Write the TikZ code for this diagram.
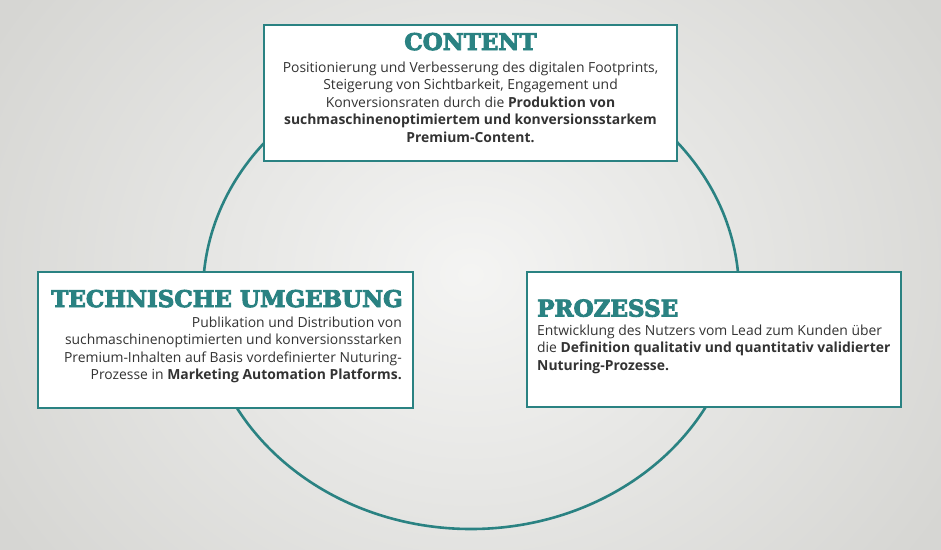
\documentclass[tikz,border=0pt]{standalone}
\usepackage{fontspec}
\setmainfont{Open Sans}
\newfontfamily\titlefont{DejaVu Serif Bold}[FakeBold=4]
\definecolor{tealc}{HTML}{2A8282}
\definecolor{bgc}{HTML}{EDEDEB}
\definecolor{bgdark}{HTML}{D6D6D3}
\definecolor{txtc}{HTML}{333333}
\newcommand{\mylines}[2]{\begin{tabular}[t]{@{}#1@{}}#2\end{tabular}}
\tikzset{
  box/.style={draw=tealc, line width=2pt, fill=white, inner sep=0pt},
  ttl/.style={font=\titlefont\fontsize{23}{26}\selectfont, text=tealc, inner sep=0pt},
  bodytxt/.style={font=\fontsize{13.9}{17.5}\selectfont, text=txtc, inner sep=0pt},
}
\begin{document}
\begin{tikzpicture}[x=1pt,y=-1pt]
\useasboundingbox (0,0) rectangle (941,549);
\shade[inner color=bgc!60!white, outer color=bgdark] (-80,-200) rectangle (1021,749);
\draw[tealc, line width=2.6pt] (471,293) ellipse [x radius=268, y radius=236];
% boxes
\node[box, minimum width=413pt, minimum height=136pt] (contentbox) at (470.5,93) {};
\node[box, minimum width=375pt, minimum height=136pt] (techbox) at (225.5,340) {};
\node[box, minimum width=374pt, minimum height=135pt] (prozbox) at (714,339.5) {};
% content
\node[ttl, anchor=base] (ctitle) at (470.5,50) {CONTENT};
\node[bodytxt, anchor=base] (cbody) at (470.5,72) {\mylines{c}{Positionierung und Verbesserung des digitalen Footprints,\\
Steigerung von Sichtbarkeit, Engagement und\\
Konversionsraten durch die \textbf{Produktion von}\\
\textbf{suchmaschinenoptimiertem und konversionsstarkem}\\
\textbf{Premium-Content.}}};
% technische umgebung
\node[ttl, anchor=base east] (ttitle) at (403,307) {TECHNISCHE UMGEBUNG};
\node[bodytxt, anchor=base east] (tbody) at (402,327) {\mylines{r}{Publikation und Distribution von\\
suchmaschinenoptimierten und konversionsstarken\\
Premium-Inhalten auf Basis vordefinierter Nuturing-\\
Prozesse in \textbf{Marketing Automation Platforms.}}};
% prozesse
\node[ttl, anchor=base west] (ptitle) at (537,316.5) {PROZESSE};
\node[bodytxt, anchor=base west] (pbody) at (537,335) {\mylines{l}{Entwicklung des Nutzers vom Lead zum Kunden über\\
die \textbf{Definition qualitativ und quantitativ validierter}\\
\textbf{Nuturing-Prozesse.}}};
\end{tikzpicture}
\end{document}
